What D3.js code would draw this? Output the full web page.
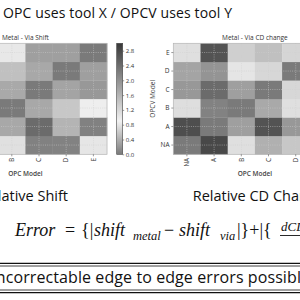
<!DOCTYPE html>
<html>
<head>
<meta charset="utf-8">
<script src="https://cdn.jsdelivr.net/npm/d3@7"></script>
<style>
body { margin: 0; background: #fff; }
svg { display: block; font-family: "Open Sans", sans-serif; }
</style>
</head>
<body>
<svg id="chart" width="300" height="300"></svg>
<script>
// model names, rows are OPCV models (NA at the bottom), columns are OPC models
var models = ["NA", "A", "B", "C", "D", "E"];

// Metal - Via Shift, rows NA..E, columns NA..E
var shiftValues = [
	[0.00, 1.50, 1.10, 2.18, 2.16, 1.04],
	[1.60, 0.00, 1.74, 2.42, 1.60, 2.18],
	[1.40, 1.70, 0.00, 1.74, 1.38, 0.95],
	[1.80, 1.50, 1.72, 0.00, 1.78, 1.92],
	[1.30, 1.90, 1.47, 1.74, 0.00, 1.84],
	[1.70, 1.20, 1.01, 1.84, 1.84, 0.00]
];

// Metal - Via CD change, rows NA..E, columns NA..E
var cdValues = [
	[0.00, 2.82, 1.11, 1.65, 1.38, 1.50],
	[2.75, 0.00, 1.84, 2.69, 1.92, 1.60],
	[1.13, 2.16, 0.00, 1.72, 1.11, 1.40],
	[1.92, 2.42, 1.84, 0.00, 1.20, 1.70],
	[1.78, 1.96, 1.05, 1.20, 0.00, 1.80],
	[1.11, 2.69, 1.29, 1.47, 1.23, 0.00]
];

var colorStops = [0, 0.9, 3.0];
var colorGrays = ["#7a7a7a", "#f2f2f2", "#383838"];
var cbarTicks = [0.0, 0.4, 0.8, 1.2, 1.6, 2.0, 2.4, 2.8];

var svg = d3.select("#chart");
var color = d3.scaleLinear().domain(colorStops).range(colorGrays);

var plotTop = 43.3, cellW = 27.2, cellH = 18.5;
var small = 6.5;

// gradient for the colour bar
var grad = svg.append("defs").append("linearGradient")
	.attr("id", "cbar")
	.attr("x1", 0).attr("y1", 1).attr("x2", 0).attr("y2", 0);
d3.range(0, 3.001, 0.1).forEach(function(v){
	grad.append("stop").attr("offset", v / 3).attr("stop-color", color(v));
});

function heatmap(values, left, title){
	var g = svg.append("g");
	var w = cellW * models.length, h = cellH * models.length;
	var x = d3.scaleBand().domain(models).range([left, left + w]);
	var y = d3.scaleBand().domain(models).range([plotTop + h, plotTop]);

	var cells = [];
	values.forEach(function(row, i){
		row.forEach(function(v, j){
			cells.push({r: models[i], c: models[j], v: v});
		});
	});

	g.selectAll("rect.cell").data(cells).enter().append("rect")
		.attr("class", "cell")
		.attr("x", function(d){return x(d.c)})
		.attr("y", function(d){return y(d.r)})
		.attr("width", x.bandwidth() + 0.3)
		.attr("height", y.bandwidth() + 0.3)
		.attr("fill", function(d){return color(d.v)});

	// dotted grid at the ticks
	var grid = g.append("g");
	grid.selectAll("line.gx").data(models).enter().append("line")
		.attr("class", "gx")
		.attr("x1", function(d){return x(d) + x.bandwidth()/2})
		.attr("x2", function(d){return x(d) + x.bandwidth()/2})
		.attr("y1", plotTop).attr("y2", plotTop + h);
	grid.selectAll("line.gy").data(models).enter().append("line")
		.attr("class", "gy")
		.attr("y1", function(d){return y(d) + y.bandwidth()/2})
		.attr("y2", function(d){return y(d) + y.bandwidth()/2})
		.attr("x1", left).attr("x2", left + w);
	grid.selectAll("line")
		.style("stroke", "#d0d0d0")
		.style("stroke-width", 0.6)
		.style("stroke-dasharray", "1,1.2")
		.style("opacity", 0.85);

	g.append("rect")
		.attr("x", left).attr("y", plotTop)
		.attr("width", w).attr("height", h)
		.style("fill", "none")
		.style("stroke", "#b5b5b5")
		.style("stroke-width", 0.7);

	var xa = g.append("g")
		.attr("transform", "translate(0," + (plotTop + h) + ")")
		.call(d3.axisBottom(x).tickSize(2).tickSizeOuter(0));
	xa.selectAll("text")
		.attr("transform", "rotate(-90)")
		.attr("x", -3.5).attr("y", 0).attr("dy", "0.35em")
		.style("text-anchor", "end");

	var ya = g.append("g")
		.attr("transform", "translate(" + left + ",0)")
		.call(d3.axisLeft(y).tickSize(2).tickPadding(1.8).tickSizeOuter(0));

	[xa, ya].forEach(function(a){
		a.select(".domain").remove();
		a.selectAll("line").style("stroke", "#555").style("stroke-width", 0.6);
		a.selectAll("text").style("font-size", small + "px").style("fill", "#333").style("font-family", "Open Sans");
	});

	g.append("text")
		.attr("x", left + w/2).attr("y", plotTop - 3.5)
		.attr("text-anchor", "middle")
		.style("font-size", small + "px").style("fill", "#333")
		.text(title);

	g.append("text")
		.attr("x", left + w/2).attr("y", plotTop + h + 21.5)
		.attr("text-anchor", "middle")
		.style("font-size", small + "px").style("fill", "#444")
		.style("font-weight", 600)
		.text("OPC Model");

	g.append("text")
		.attr("transform", "translate(" + (left - 18) + "," + (plotTop + h/2) + ") rotate(-90)")
		.attr("text-anchor", "middle")
		.style("font-size", small + "px").style("fill", "#444")
		.text("OPCV Model");

	// colour bar
	var bx = left + w + 9.7;
	var cy = d3.scaleLinear().domain([0, 3.0]).range([plotTop + h, plotTop]);
	g.append("rect")
		.attr("x", bx).attr("y", plotTop)
		.attr("width", 6).attr("height", h)
		.style("fill", "url(#cbar)")
		.style("stroke", "#444").style("stroke-width", 0.6);
	var ca = g.append("g")
		.attr("transform", "translate(" + (bx + 6) + ",0)")
		.call(d3.axisRight(cy).tickValues(cbarTicks).tickFormat(d3.format(".1f")).tickSize(1.5).tickPadding(1.5));
	ca.select(".domain").remove();
	ca.selectAll("line").style("stroke", "#555").style("stroke-width", 0.6);
	ca.selectAll("text").style("font-size", "6px").style("fill", "#333").style("font-family", "Open Sans");
}

heatmap(shiftValues, 107 - cellW * 6, "Metal - Via Shift");
heatmap(cdValues, 173.3, "Metal - Via CD change");

// headline
svg.append("text")
	.attr("x", 3).attr("y", 17.5)
	.attr("textLength", 229).attr("lengthAdjust", "spacing")
	.style("font-size", "14px").style("fill", "#111")
	.text("OPC uses tool X / OPCV uses tool Y");

svg.append("text")
	.attr("x", 68).attr("y", 200.5)
	.attr("text-anchor", "end")
	.style("font-size", "14.5px").style("fill", "#111")
	.text("Relative Shift");

svg.append("text")
	.attr("x", 192.7).attr("y", 200.5)
	.style("font-size", "14.5px").style("fill", "#111")
	.text("Relative CD Change");

// equation
var eq = svg.append("text")
	.attr("y", 236)
	.style("font-family", "'Liberation Serif', serif")
	.style("font-size", "18px").style("fill", "#111");
eq.append("tspan").attr("x", 15).style("font-style", "italic").text("Error");
eq.append("tspan").attr("x", 65).text("=");
eq.append("tspan").attr("x", 81).text("{|");
eq.append("tspan").attr("x", 94).style("font-style", "italic").text("shift");
eq.append("tspan").attr("x", 133).attr("dy", 4).style("font-style", "italic").style("font-size", "12.5px").text("metal");
eq.append("tspan").attr("x", 164).attr("dy", -4).text("\u2212");
eq.append("tspan").attr("x", 179).style("font-style", "italic").text("shift");
eq.append("tspan").attr("x", 220).attr("dy", 4).style("font-style", "italic").style("font-size", "12.5px").text("via");
eq.append("tspan").attr("x", 237).attr("dy", -4).text("|}+|{");
svg.append("text")
	.attr("x", 281).attr("y", 231)
	.style("font-family", "'Liberation Serif', serif")
	.style("font-style", "italic").style("font-size", "13px").style("fill", "#111")
	.text("dCD");
svg.append("line")
	.attr("x1", 280).attr("x2", 310)
	.attr("y1", 235.5).attr("y2", 235.5)
	.style("stroke", "#111").style("stroke-width", 0.9);

// boxed note with double rules
[263.3, 266, 290, 292.7].forEach(function(yy, i){
	svg.append("line")
		.attr("x1", 0).attr("x2", 300)
		.attr("y1", yy).attr("y2", yy)
		.style("stroke", "#111").style("stroke-width", (i == 0 || i == 3) ? 1.3 : 0.8);
});
svg.append("text")
	.attr("x", -16).attr("y", 283)
	.attr("textLength", 326).attr("lengthAdjust", "spacing")
	.style("font-size", "16px").style("fill", "#111")
	.text("Uncorrectable edge to edge errors possible");
</script>
</body>
</html>
